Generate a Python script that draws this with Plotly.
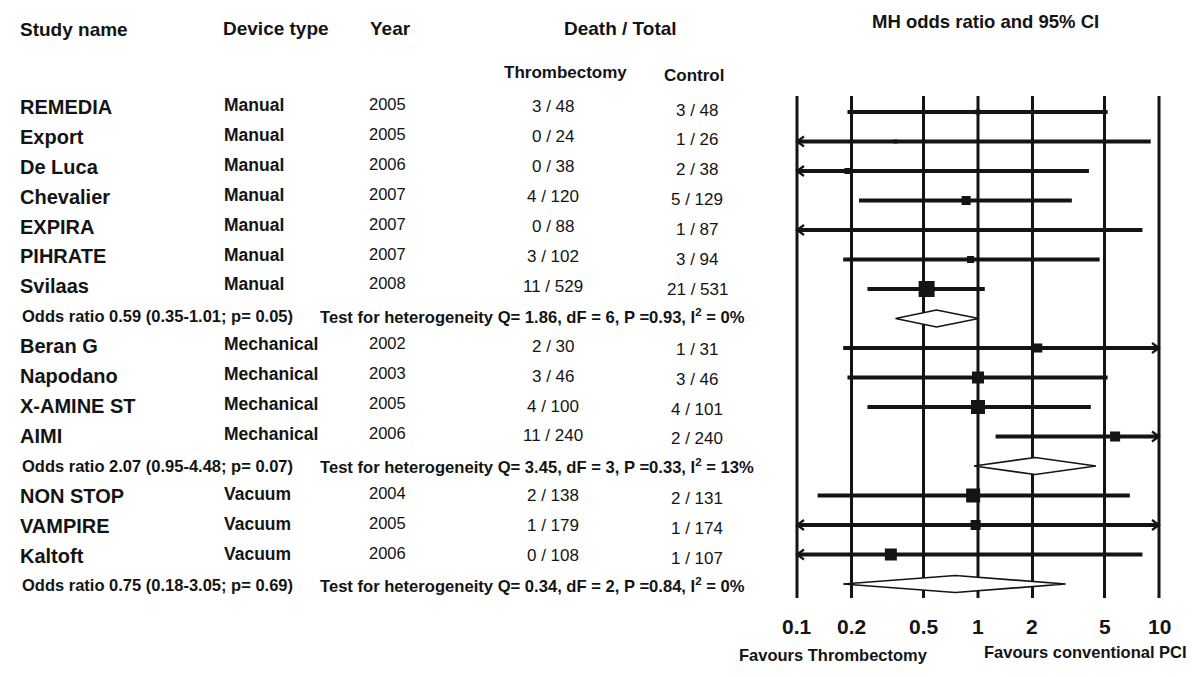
import math
import plotly.graph_objects as go

# ---------------- data ----------------
studies = ["REMEDIA", "Export", "De Luca", "Chevalier", "EXPIRA", "PIHRATE", "Svilaas",
           "Beran G", "Napodano", "X-AMINE ST", "AIMI",
           "NON STOP", "VAMPIRE", "Kaltoft"]
devices = ["Manual"] * 7 + ["Mechanical"] * 4 + ["Vacuum"] * 3
years = [2005, 2005, 2006, 2007, 2007, 2007, 2008, 2002, 2003, 2005, 2006, 2004, 2005, 2006]
thromb = ["3 / 48", "0 / 24", "0 / 38", "4 / 120", "0 / 88", "3 / 102", "11 / 529",
          "2 / 30", "3 / 46", "4 / 100", "11 / 240", "2 / 138", "1 / 179", "0 / 108"]
control = ["3 / 48", "1 / 26", "2 / 38", "5 / 129", "1 / 87", "3 / 94", "21 / 531",
           "1 / 31", "3 / 46", "4 / 101", "2 / 240", "2 / 131", "1 / 174", "1 / 107"]
odds_ratio = [1.00, 0.35, 0.19, 0.86, 0.33, 0.91, 0.52, 2.14, 1.00, 1.00, 5.72, 0.94, 0.97, 0.33]
ci_low = [0.19, 0.013, 0.009, 0.22, 0.013, 0.18, 0.245, 0.18, 0.19, 0.245, 1.25, 0.13, 0.06, 0.013]
ci_high = [5.2, 9.0, 4.1, 3.3, 8.1, 4.7, 1.09, 24.9, 5.2, 4.2, 26.1, 6.9, 15.6, 8.1]
weights = [1.6, 1.0, 2.3, 5.1, 1.0, 3.1, 16.0, 5.1, 9.0, 12.3, 6.3, 12.3, 6.3, 9.0]
group_sizes = [7, 4, 3]
pooled_or = [0.59, 2.07, 0.75]
pooled_low = [0.35, 0.95, 0.18]
pooled_high = [1.01, 4.48, 3.05]
pooled_p = ["0.05", "0.07", "0.69"]
het_q = ["1.86", "3.45", "0.34"]
het_df = [6, 3, 2]
het_p = ["0.93", "0.33", "0.84"]
het_i2 = ["0%", "13%", "0%"]
tick_vals = [0.1, 0.2, 0.5, 1, 2, 5, 10]
tick_text = ["0.1", "0.2", "0.5", "1", "2", "5", "10"]

# ---------------- layout helpers ----------------
OFF = 8                      # page body margin
W, H = 1200 - OFF, 677 - OFF  # figure size
X_MIN, X_MAX = 0.1, 10
PX_01, PX_PER_DEC = 797.0 - OFF, 181.0
ROW0_PX, ROW_STEP = 112.0 - OFF, 29.5          # forest rows
TXT0_PX, TXT_STEP = 107.0 - OFF, 29.9          # text rows
FONT = "Liberation Sans, Arial, sans-serif"
INK = "#141414"

x_lo = -1 - PX_01 / PX_PER_DEC
x_hi = -1 + (W - PX_01) / PX_PER_DEC
y_top = -ROW0_PX / ROW_STEP
y_bot = (H - ROW0_PX) / ROW_STEP

# row assignment
study_rows, pooled_rows = [], []
r = 0
for g in group_sizes:
    for _ in range(g):
        study_rows.append(r)
        r += 1
    pooled_rows.append(r)
    r += 1

fig = go.Figure()

# vertical reference lines
vx, vy = [], []
v_top = (96 - OFF - ROW0_PX) / ROW_STEP
v_bot = (598 - OFF - ROW0_PX) / ROW_STEP
for t in tick_vals:
    vx += [t, t, None]
    vy += [v_top, v_bot, None]
fig.add_trace(go.Scatter(x=vx, y=vy, mode="lines", line=dict(color=INK, width=3),
                         hoverinfo="skip", showlegend=False))

# CI lines + arrows
cx, cy, ax_, ay_ = [], [], [], []
dx = 7 / PX_PER_DEC
dy = 5 / ROW_STEP
for i, row in enumerate(study_rows):
    lo = max(ci_low[i], X_MIN)
    hi = min(ci_high[i], X_MAX)
    cx += [lo, hi, None]
    cy += [row, row, None]
    if ci_low[i] < X_MIN:
        tip = math.log10(X_MIN)
        ax_ += [10 ** (tip + dx), X_MIN, 10 ** (tip + dx), None]
        ay_ += [row - dy, row, row + dy, None]
    if ci_high[i] > X_MAX:
        tip = math.log10(X_MAX)
        ax_ += [10 ** (tip - dx), X_MAX, 10 ** (tip - dx), None]
        ay_ += [row - dy, row, row + dy, None]
fig.add_trace(go.Scatter(x=cx, y=cy, mode="lines", line=dict(color=INK, width=4),
                         hoverinfo="skip", showlegend=False))
fig.add_trace(go.Scatter(x=ax_, y=ay_, mode="lines", line=dict(color=INK, width=2.2),
                         hoverinfo="skip", showlegend=False))

# study squares
fig.add_trace(go.Scatter(
    x=odds_ratio, y=study_rows, mode="markers",
    marker=dict(symbol="square", color=INK, opacity=1,
                size=[4 * math.sqrt(w) for w in weights], line=dict(width=0)),
    hoverinfo="skip", showlegend=False))

# pooled diamonds
dh = 8.5 / ROW_STEP
for k, row in enumerate(pooled_rows):
    fig.add_trace(go.Scatter(
        x=[pooled_low[k], pooled_or[k], pooled_high[k], pooled_or[k], pooled_low[k]],
        y=[row, row - dh, row, row + dh, row],
        mode="lines", fill="toself", fillcolor="white",
        line=dict(color=INK, width=1.6), hoverinfo="skip", showlegend=False))

# ---------------- text ----------------
ann = []


def txt(text, px, py, size, bold=True, anchor="left"):
    """px, py are screen coordinates (page pixels)."""
    ann.append(dict(text=text, x=(px - OFF) / W, y=1 - (py - OFF) / H,
                    xref="paper", yref="paper",
                    xanchor=anchor, yanchor="middle", showarrow=False,
                    font=dict(family=FONT, size=size, color=INK,
                              weight="bold" if bold else "normal")))


def text_py(row):
    return TXT0_PX + OFF + row * TXT_STEP


# headers
txt("Study name", 18, 30, 19)
txt("Device type", 221, 28, 19)
txt("Year", 368, 28, 19)
txt("Death / Total", 620, 28, 19, anchor="center")
txt("Thrombectomy", 565, 73, 17, anchor="center")
txt("Control", 694, 75, 17, anchor="center")
txt("MH odds ratio and 95% CI", 985, 22, 18.5, anchor="center")

for i, row in enumerate(study_rows):
    py = text_py(row)
    txt(studies[i], 18, py, 20)
    txt(devices[i], 222, py - 2, 17.5)
    txt(str(years[i]), 367, py - 3, 16.5, bold=False)
    txt(thromb[i], 553, py, 17, bold=False, anchor="center")
    txt(control[i], 697, py + 3, 17, bold=False, anchor="center")

for k, row in enumerate(pooled_rows):
    py = text_py(row)
    txt(f"Odds ratio {pooled_or[k]:.2f} ({pooled_low[k]:.2f}-{pooled_high[k]:.2f}; p= {pooled_p[k]})",
        20, py, 16.5)
    txt(f"Test for heterogeneity Q= {het_q[k]}, dF = {het_df[k]}, P ={het_p[k]}, I<sup>2</sup> = {het_i2[k]}",
        318, py, 16.6)

# axis tick labels and favours labels
for v, t in zip(tick_vals, tick_text):
    px = PX_01 + OFF + PX_PER_DEC * (math.log10(v) + 1)
    txt(t, px, 626, 21, anchor="center")
txt("Favours Thrombectomy", 833, 655, 16.5, anchor="center")
txt("Favours conventional PCI", 1085, 652, 16.5, anchor="center")

fig.update_layout(
    width=W, height=H,
    margin=dict(l=0, r=0, t=0, b=0),
    paper_bgcolor="white", plot_bgcolor="white",
    annotations=ann,
    xaxis=dict(type="log", range=[x_lo, x_hi], domain=[0, 1], visible=False, fixedrange=True),
    yaxis=dict(range=[y_bot, y_top], domain=[0, 1], visible=False, fixedrange=True),
)

fig.write_html("out.html")
